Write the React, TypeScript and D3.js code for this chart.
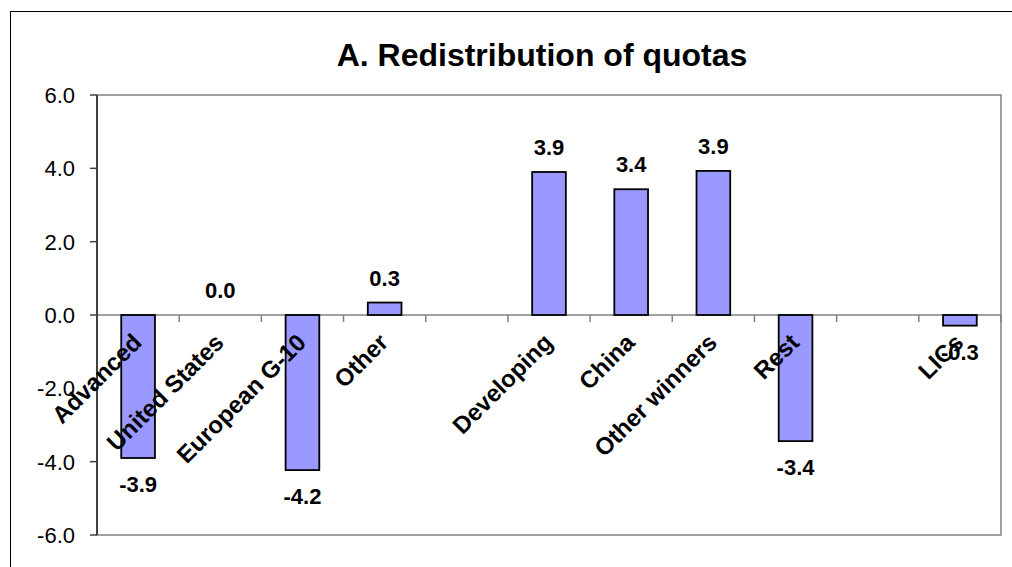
import React from "react";
import * as d3 from "d3";

const categories = [
  "Advanced",
  "United States",
  "European G-10",
  "Other",
  "",
  "Developing",
  "China",
  "Other winners",
  "Rest",
  " ",
  "LICs",
];
const values: (number | null)[] = [-3.9, 0.0, -4.23, 0.34, null, 3.9, 3.43, 3.93, -3.44, null, -0.29];
const yTicks = [-6, -4, -2, 0, 2, 4, 6];
const title = "A. Redistribution of quotas";

const W = 1012;
const H = 567;
const plot = { left: 97, right: 1001, top: 95, bottom: 535 };
const FONT = "Arial, 'Liberation Sans', sans-serif";

const fmt = (v: number) => v.toFixed(1);

export default function App() {
  const x = d3
    .scaleBand<string>()
    .domain(categories)
    .range([plot.left, plot.right])
    .paddingInner(0.59)
    .paddingOuter(0.295);
  const xOuter = d3.scaleBand<string>().domain(categories).range([plot.left, plot.right]);
  const y = d3.scaleLinear().domain([-6, 6]).range([plot.bottom, plot.top]);
  const y0 = y(0);

  return (
    <svg
      width={W}
      height={H}
      style={{ position: "absolute", left: 0, top: 0, background: "#fff" }}
      fontFamily={FONT}
    >
      <rect x={10.5} y={11.5} width={W + 20} height={H + 20} fill="#fff" stroke="#000" strokeWidth={1} />
      <text x={542} y={66} textAnchor="middle" fontSize={32} fontWeight="bold" fill="#000">
        {title}
      </text>
      <rect
        x={plot.left}
        y={plot.top}
        width={plot.right - plot.left}
        height={plot.bottom - plot.top}
        fill="#fff"
        stroke="#808080"
        strokeWidth={1.5}
      />
      {/* zero line */}
      <line x1={plot.left} x2={plot.right} y1={y0} y2={y0} stroke="#808080" strokeWidth={1.5} />
      {/* x ticks */}
      {categories.map((c, i) =>
        i === 0 ? null : (
          <line
            key={"xt" + i}
            x1={xOuter(c) as number}
            x2={xOuter(c) as number}
            y1={y0}
            y2={y0 + 7}
            stroke="#808080"
            strokeWidth={1.5}
          />
        )
      )}
      <line x1={plot.right} x2={plot.right} y1={y0} y2={y0 + 7} stroke="#808080" strokeWidth={1.5} />
      {/* y axis */}
      <line x1={plot.left} x2={plot.left} y1={plot.top} y2={plot.bottom} stroke="#404040" strokeWidth={2} />
      {yTicks.map((t) => (
        <g key={"yt" + t}>
          <line x1={plot.left - 7} x2={plot.left} y1={y(t)} y2={y(t)} stroke="#404040" strokeWidth={1.5} />
          <text x={75} y={y(t) + 8} textAnchor="end" fontSize={22} fill="#000">
            {fmt(t)}
          </text>
        </g>
      ))}
      {/* bars */}
      {categories.map((c, i) => {
        const v = values[i];
        if (v === null) return null;
        const bx = x(c) as number;
        const top = Math.min(y(v), y0);
        const h = Math.abs(y(v) - y0);
        return (
          <rect
            key={"b" + i}
            x={bx}
            y={top}
            width={x.bandwidth()}
            height={h}
            fill="#9999FF"
            stroke="#000"
            strokeWidth={1.8}
            opacity={h === 0 ? 0 : 1}
          />
        );
      })}
      {/* category labels */}
      {categories.map((c, i) => {
        const cx = (xOuter(c) as number) + xOuter.bandwidth() / 2;
        return (
          <text
            key={"cl" + i}
            transform={`translate(${cx + 5},${y0 + 29}) rotate(-45)`}
            textAnchor="end"
            fontSize={24}
            fontWeight="bold"
            fill="#000"
          >
            {c.trim()}
          </text>
        );
      })}
      {/* value labels */}
      {categories.map((c, i) => {
        const v = values[i];
        if (v === null) return null;
        const cx = (xOuter(c) as number) + xOuter.bandwidth() / 2;
        const yy = v >= 0 ? y(v) - 17 : y(v) + 34;
        return (
          <text key={"vl" + i} x={cx} y={yy} textAnchor="middle" fontSize={22} fontWeight="bold" fill="#000">
            {fmt(v)}
          </text>
        );
      })}
    </svg>
  );
}
